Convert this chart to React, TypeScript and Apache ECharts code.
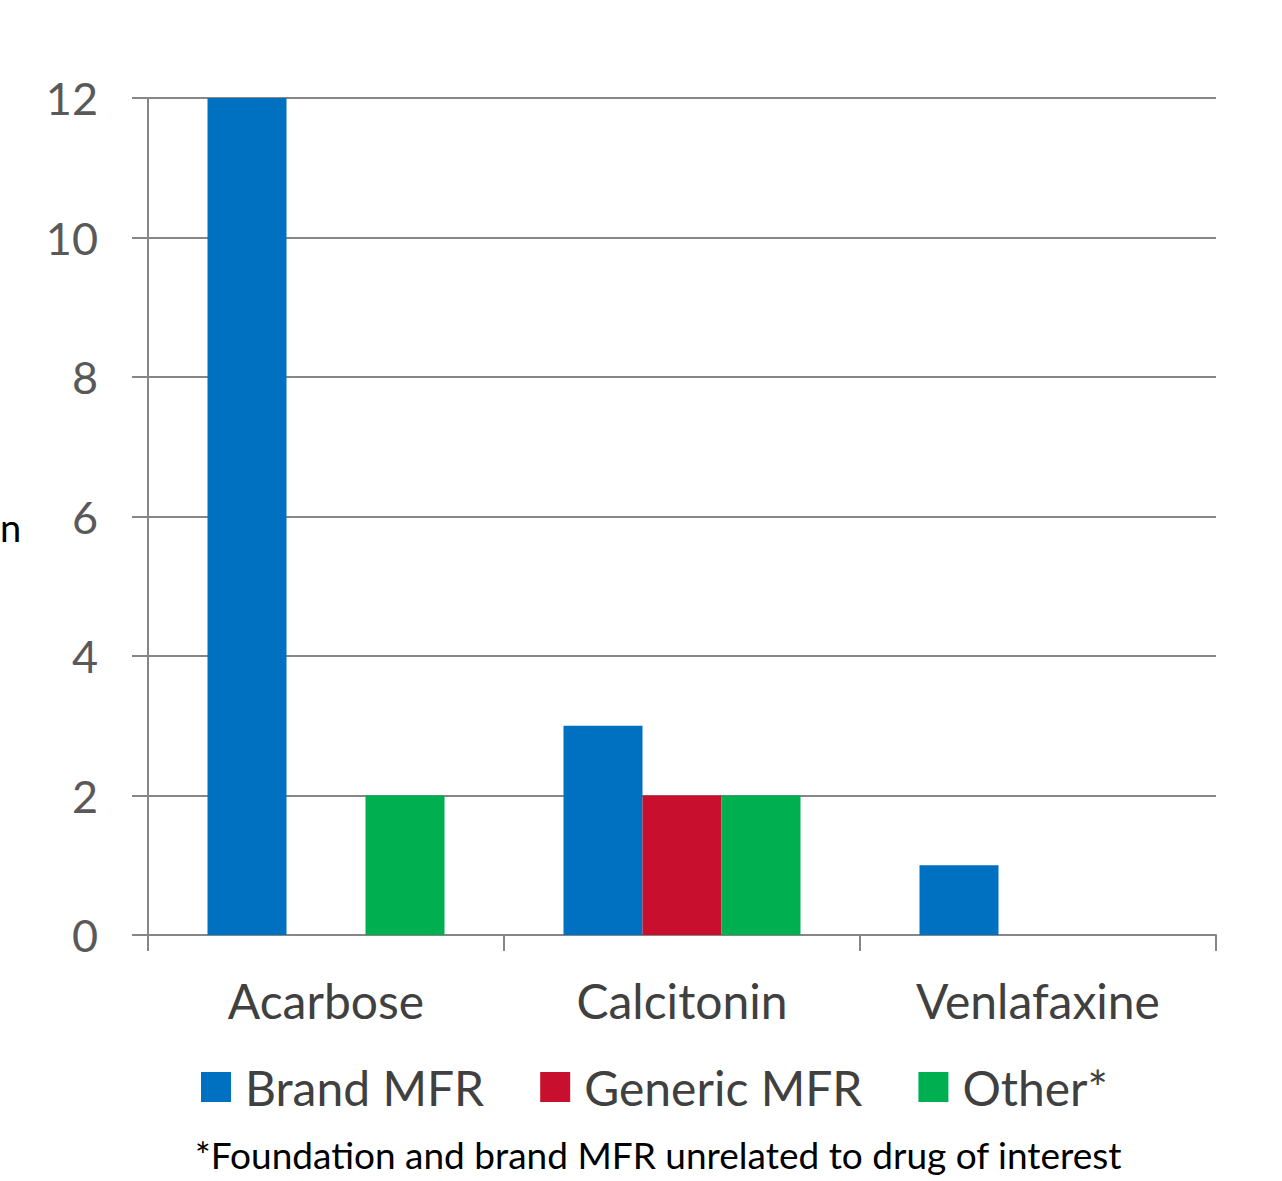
import React, { useEffect, useRef } from "react";
import * as echarts from "echarts";

const categories = ["Acarbose", "Calcitonin", "Venlafaxine"];
const brandMFR = [12, 3, 1];
const genericMFR = [0, 2, 0];
const otherMFR = [2, 2, 0];
const seriesNames = ["Brand MFR", "Generic MFR", "Other*"];
const footnote = "*Foundation and brand MFR unrelated to drug of interest";

const FONT = "Lato, 'Open Sans', sans-serif";

export default function App() {
  const ref = useRef<HTMLDivElement>(null);
  useEffect(() => {
    const chart = echarts.init(ref.current!, null, { renderer: "svg" });
    const mk = (name: string, data: number[], color: string) => ({
      name,
      type: "bar",
      data: data.map((v) => (v === 0 ? null : v)),
      barWidth: 79,
      barGap: "0%",
      itemStyle: { color },
    });
    chart.setOption({
      animation: false,
      backgroundColor: "#ffffff",
      textStyle: { fontFamily: FONT },
      grid: { left: 148, right: 66, top: 98, bottom: 246, containLabel: false },
      legend: {
        data: seriesNames,
        bottom: 65,
        left: 196,
        itemWidth: 30,
        itemHeight: 30,
        itemGap: 56,
        icon: "rect",
        textStyle: { fontSize: 48, color: "#404040", fontFamily: FONT, padding: [0, 0, 0, 9] },
      },
      xAxis: {
        type: "category",
        data: categories,
        axisLine: { lineStyle: { color: "#868686", width: 2 } },
        axisTick: { show: true, length: 16, lineStyle: { color: "#868686", width: 2 } },
        axisLabel: { fontSize: 48, color: "#404040", margin: 41, fontFamily: FONT },
      },
      yAxis: {
        type: "value",
        min: 0,
        max: 12,
        interval: 2,
        axisLine: { show: true, lineStyle: { color: "#868686", width: 2 } },
        axisTick: { show: true, length: 16, lineStyle: { color: "#868686", width: 2 } },
        axisLabel: { fontSize: 45, color: "#595959", margin: 50, fontFamily: FONT },
        splitLine: { lineStyle: { color: "#868686", width: 2 } },
      },
      graphic: [
        {
          type: "text",
          left: 195,
          top: 1136,
          style: { text: footnote, fontSize: 37, fill: "#000000", fontFamily: FONT },
        },
        {
          type: "text",
          left: 0,
          top: 508,
          style: { text: "n", fontSize: 38, fill: "#000000", fontFamily: FONT },
        },
      ],
      series: [
        mk(seriesNames[0], brandMFR, "#0070C0"),
        mk(seriesNames[1], genericMFR, "#C8102E"),
        mk(seriesNames[2], otherMFR, "#00B050"),
      ],
    });
    return () => chart.dispose();
  }, []);
  return (
    <div
      ref={ref}
      style={{ position: "absolute", left: 0, top: 0, width: 1282, height: 1181 }}
    />
  );
}
